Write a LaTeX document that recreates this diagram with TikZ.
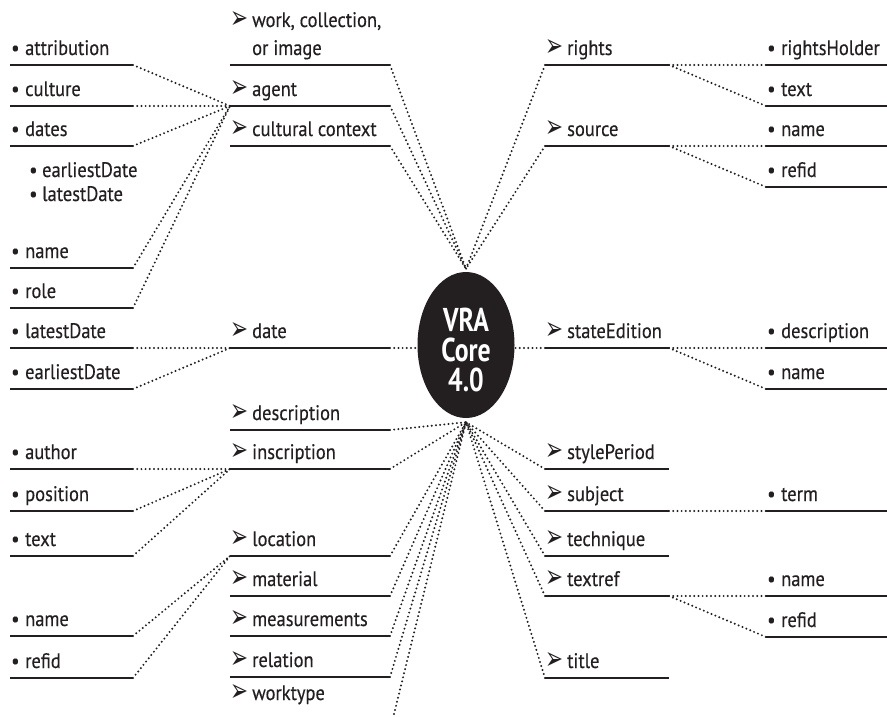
\documentclass[tikz,border=0pt]{standalone}
\usepackage{graphicx}
\usepackage{fontspec}
\setmainfont[FakeStretch=0.88,FakeBold=0.35]{PT Sans}
\newfontfamily\arrfont{DejaVu Sans}
\newfontfamily\corefont[FakeStretch=0.78]{PT Sans}
\usetikzlibrary{shapes.geometric}
\definecolor{ink}{HTML}{231F20}

% list markers
\newcommand\bul{\makebox[14pt][l]{\textbullet}}
\newcommand\arh{\makebox[21pt][l]{\hspace{-1pt}\raisebox{-1.5pt}{\resizebox*{18pt}{17pt}{\arrfont ➢}}}}

% one underlined entry: name, marker, x-left, x-right, y, text
\newcommand\entry[6]{%
  \coordinate (#1-l) at (#3,#5);
  \coordinate (#1-r) at (#4,#5);
  \draw[underline] (#1-l) -- (#1-r);
  \node[lbl] (#1) at (#3+1,#5-10) {#2#6};
}

\tikzset{
  underline/.style={draw=ink, line width=2.6pt},
  conn/.style={draw=ink, line width=2.2pt, line cap=round, dash pattern=on 0pt off 4.2pt},
  lbl/.style={anchor=base west, inner sep=0pt, text=ink, font=\fontsize{21}{28}\selectfont},
  corebox/.style={ellipse, fill=ink, minimum width=97pt, minimum height=146pt, inner sep=0pt},
  coretext/.style={align=center, text=white, inner sep=0pt,
    font=\corefont\bfseries\fontsize{33}{30}\selectfont},
}

\begin{document}
\begin{tikzpicture}[x=1pt,y=-1pt]
\useasboundingbox (0,0) rectangle (887,717);

% central element
\node[corebox] (core) at (466,345) {};
\node[coretext] (corelabel) at (466,350) {VRA\\Core\\4.0};
\coordinate (ctop) at ([yshift=3pt]core.north);
\coordinate (cbot) at ([yshift=-4pt]core.south);

% left column: sub-elements
\entry{attribution}{\bul}{10}{133}{65}{attribution}
\entry{culture}{\bul}{10}{133}{106}{culture}
\entry{dates}{\bul}{10}{133}{146}{dates}
\node[lbl] (subearly) at (29,177) {\makebox[13pt][l]{\textbullet}earliestDate};
\node[lbl] (sublate) at (29,201) {\makebox[13pt][l]{\textbullet}latestDate};
\entry{aname}{\bul}{10}{133}{268}{name}
\entry{role}{\bul}{10}{133}{308}{role}
\entry{alatest}{\bul}{10}{133}{348}{latestDate}
\entry{aearliest}{\bul}{10}{133}{389}{earliestDate}
\entry{author}{\bul}{10}{133}{469}{author}
\entry{position}{\bul}{10}{133}{511}{position}
\entry{itext}{\bul}{10}{133}{556}{text}
\entry{lname}{\bul}{10}{133}{636}{name}
\entry{lrefid}{\bul}{10}{133}{678}{refid}

% left inner column: elements
\coordinate (work-l) at (230,65);
\coordinate (work-r) at (390,65);
\draw[underline] (work-l) -- (work-r);
\node[lbl] (work) at (231,27) {\arh\begin{tabular}[t]{@{}l@{}}work, collection,\\or image\end{tabular}};
\entry{agent}{\arh}{230}{390}{106}{agent}
\entry{cultural}{\arh}{230}{390}{146}{cultural context}
\entry{date}{\arh}{230}{390}{348}{date}
\entry{description}{\arh}{230}{390}{430}{description}
\entry{inscription}{\arh}{230}{390}{469}{inscription}
\entry{location}{\arh}{230}{390}{556}{location}
\entry{material}{\arh}{230}{390}{596}{material}
\entry{measurements}{\arh}{230}{390}{636}{measurements}
\entry{relation}{\arh}{230}{390}{677}{relation}
\node[lbl] (worktype) at (231,700) {\arh worktype};
\coordinate (worktype-r) at (394,714);

% right inner column: elements
\entry{rights}{\arh}{545}{669}{65}{rights}
\entry{source}{\arh}{545}{669}{146}{source}
\entry{stateEdition}{\arh}{545}{669}{348}{stateEdition}
\entry{stylePeriod}{\arh}{545}{669}{469}{stylePeriod}
\entry{subject}{\arh}{545}{669}{511}{subject}
\entry{technique}{\arh}{545}{669}{556}{technique}
\entry{textref}{\arh}{545}{669}{596}{textref}
\entry{title}{\arh}{545}{669}{678}{title}

% right column: sub-elements
\entry{rightsHolder}{\bul}{766}{887}{65}{rightsHolder}
\entry{rtext}{\bul}{766}{887}{106}{text}
\entry{sname}{\bul}{766}{887}{146}{name}
\entry{srefid}{\bul}{766}{887}{187}{refid}
\entry{sdesc}{\bul}{766}{887}{348}{description}
\entry{sename}{\bul}{766}{887}{389}{name}
\entry{term}{\bul}{766}{887}{511}{term}
\entry{tname}{\bul}{766}{887}{596}{name}
\entry{trefid}{\bul}{766}{887}{637}{refid}

% sub-elements to their elements
\foreach \s in {attribution,culture,dates,aname,role}
  \draw[conn] (\s-r) -- (agent-l);
\foreach \s in {alatest,aearliest}
  \draw[conn] (\s-r) -- (date-l);
\foreach \s in {author,position,itext}
  \draw[conn] (\s-r) -- (inscription-l);
\foreach \s in {lname,lrefid}
  \draw[conn] (\s-r) -- (location-l);
\foreach \s in {rightsHolder,rtext}
  \draw[conn] (rights-r) -- (\s-l);
\foreach \s in {sname,srefid}
  \draw[conn] (source-r) -- (\s-l);
\foreach \s in {sdesc,sename}
  \draw[conn] (stateEdition-r) -- (\s-l);
\draw[conn] (subject-r) -- (term-l);
\foreach \s in {tname,trefid}
  \draw[conn] (textref-r) -- (\s-l);

% elements to the core
\foreach \s in {work,agent,cultural}
  \draw[conn] (\s-r) -- (ctop);
\foreach \s in {rights,source}
  \draw[conn] (\s-l) -- (ctop);
\draw[conn] (date-r) -- (date-r -| core.west);
\draw[conn] (stateEdition-l) -- (stateEdition-l -| core.east);
\foreach \s in {description,inscription,location,material,measurements,relation,worktype}
  \draw[conn] (\s-r) -- (cbot);
\foreach \s in {stylePeriod,subject,technique,textref,title}
  \draw[conn] (\s-l) -- (cbot);
\end{tikzpicture}
\end{document}
